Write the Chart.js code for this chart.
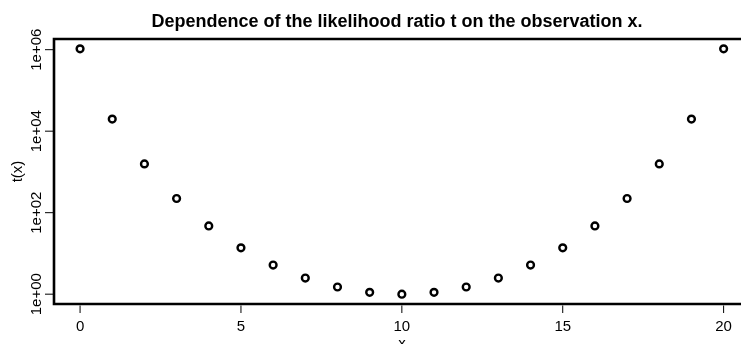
<!DOCTYPE html>
<html>
<head>
<meta charset="utf-8">
<title>Dependence of the likelihood ratio t on the observation x.</title>
<script src="https://cdn.jsdelivr.net/npm/chart.js@4/dist/chart.umd.min.js"></script>
<style>
  html, body { margin: 0; padding: 0; background: #fff; overflow: hidden; }
  #wrap { width: 741px; height: 344px; }
</style>
</head>
<body>
<div id="wrap"><canvas id="chart" width="741" height="344"></canvas></div>
<script>
const xValues = [0, 1, 2, 3, 4, 5, 6, 7, 8, 9, 10, 11, 12, 13, 14, 15, 16, 17, 18, 19, 20];
const tValues = [1048576, 19786, 1574, 223, 47.2, 13.7, 5.18, 2.49, 1.50, 1.11, 1.00,
                 1.11, 1.50, 2.49, 5.18, 13.7, 47.2, 223, 1574, 19786, 1048576];
const xTicks = [0, 5, 10, 15, 20];
const yTicks = [1, 1e2, 1e4, 1e6];
const yTickLabels = ['1e+00', '1e+02', '1e+04', '1e+06'];

const titleText = 'Dependence of the likelihood ratio t on the observation x.';
const fontFamily = "'Liberation Sans', Arial, Helvetica, sans-serif";

// R-style frame, ticks and labels drawn from the chart's own scales
const baseAxes = {
  id: 'baseAxes',
  afterDraw(chart) {
    const ctx = chart.ctx;
    const area = chart.chartArea;
    const xs = chart.scales.x;
    const ys = chart.scales.y;
    ctx.save();

    // frame (right side falls outside the window)
    ctx.strokeStyle = '#000';
    ctx.lineWidth = 2.6;
    ctx.beginPath();
    ctx.moveTo(area.right + 5, area.top);
    ctx.lineTo(area.left, area.top);
    ctx.lineTo(area.left, area.bottom);
    ctx.lineTo(area.right + 5, area.bottom);
    ctx.stroke();

    // tick marks
    ctx.lineWidth = 1;
    ctx.beginPath();
    xTicks.forEach(v => {
      const px = xs.getPixelForValue(v);
      ctx.moveTo(px, area.bottom + 1.5);
      ctx.lineTo(px, area.bottom + 9);
    });
    yTicks.forEach(v => {
      const py = ys.getPixelForValue(v);
      ctx.moveTo(area.left - 1, py);
      ctx.lineTo(area.left - 9, py);
    });
    ctx.stroke();

    // tick labels
    ctx.fillStyle = '#000';
    ctx.font = '15px ' + fontFamily;
    ctx.textAlign = 'center';
    ctx.textBaseline = 'alphabetic';
    xTicks.forEach(v => {
      ctx.fillText(String(v), xs.getPixelForValue(v), 331);
    });
    yTicks.forEach((v, i) => {
      ctx.save();
      ctx.translate(41, ys.getPixelForValue(v));
      ctx.rotate(-Math.PI / 2);
      ctx.fillText(yTickLabels[i], 0, 0);
      ctx.restore();
    });

    // axis titles
    ctx.fillText('x', 402, 348);
    ctx.save();
    ctx.translate(22, (area.top + area.bottom) / 2);
    ctx.rotate(-Math.PI / 2);
    ctx.fillText('t(x)', 0, 0);
    ctx.restore();

    // main title
    ctx.font = 'bold 18px ' + fontFamily;
    ctx.fillText(titleText, 397, 27);

    ctx.restore();
  }
};

new Chart(document.getElementById('chart'), {
  type: 'scatter',
  data: {
    datasets: [{
      label: 't(x)',
      data: xValues.map((x, i) => ({ x: x, y: tValues[i] })),
      pointStyle: 'circle',
      pointRadius: 3.4,
      pointBorderWidth: 2.4,
      pointBorderColor: '#000',
      pointBackgroundColor: 'rgba(0,0,0,0)',
      showLine: false
    }]
  },
  options: {
    responsive: false,
    animation: false,
    events: [],
    layout: {
      autoPadding: false,
      padding: { left: 54, top: 39, right: 0, bottom: 40 }
    },
    plugins: {
      legend: { display: false },
      tooltip: { enabled: false },
      title: { display: false }
    },
    scales: {
      x: {
        type: 'linear',
        display: false,
        bounds: 'data',
        min: -0.81,
        max: 20.54
      },
      y: {
        type: 'logarithmic',
        display: false,
        bounds: 'data',
        min: Math.pow(10, -0.241),
        max: Math.pow(10, 6.262)
      }
    }
  },
  plugins: [baseAxes]
});
</script>
</body>
</html>
